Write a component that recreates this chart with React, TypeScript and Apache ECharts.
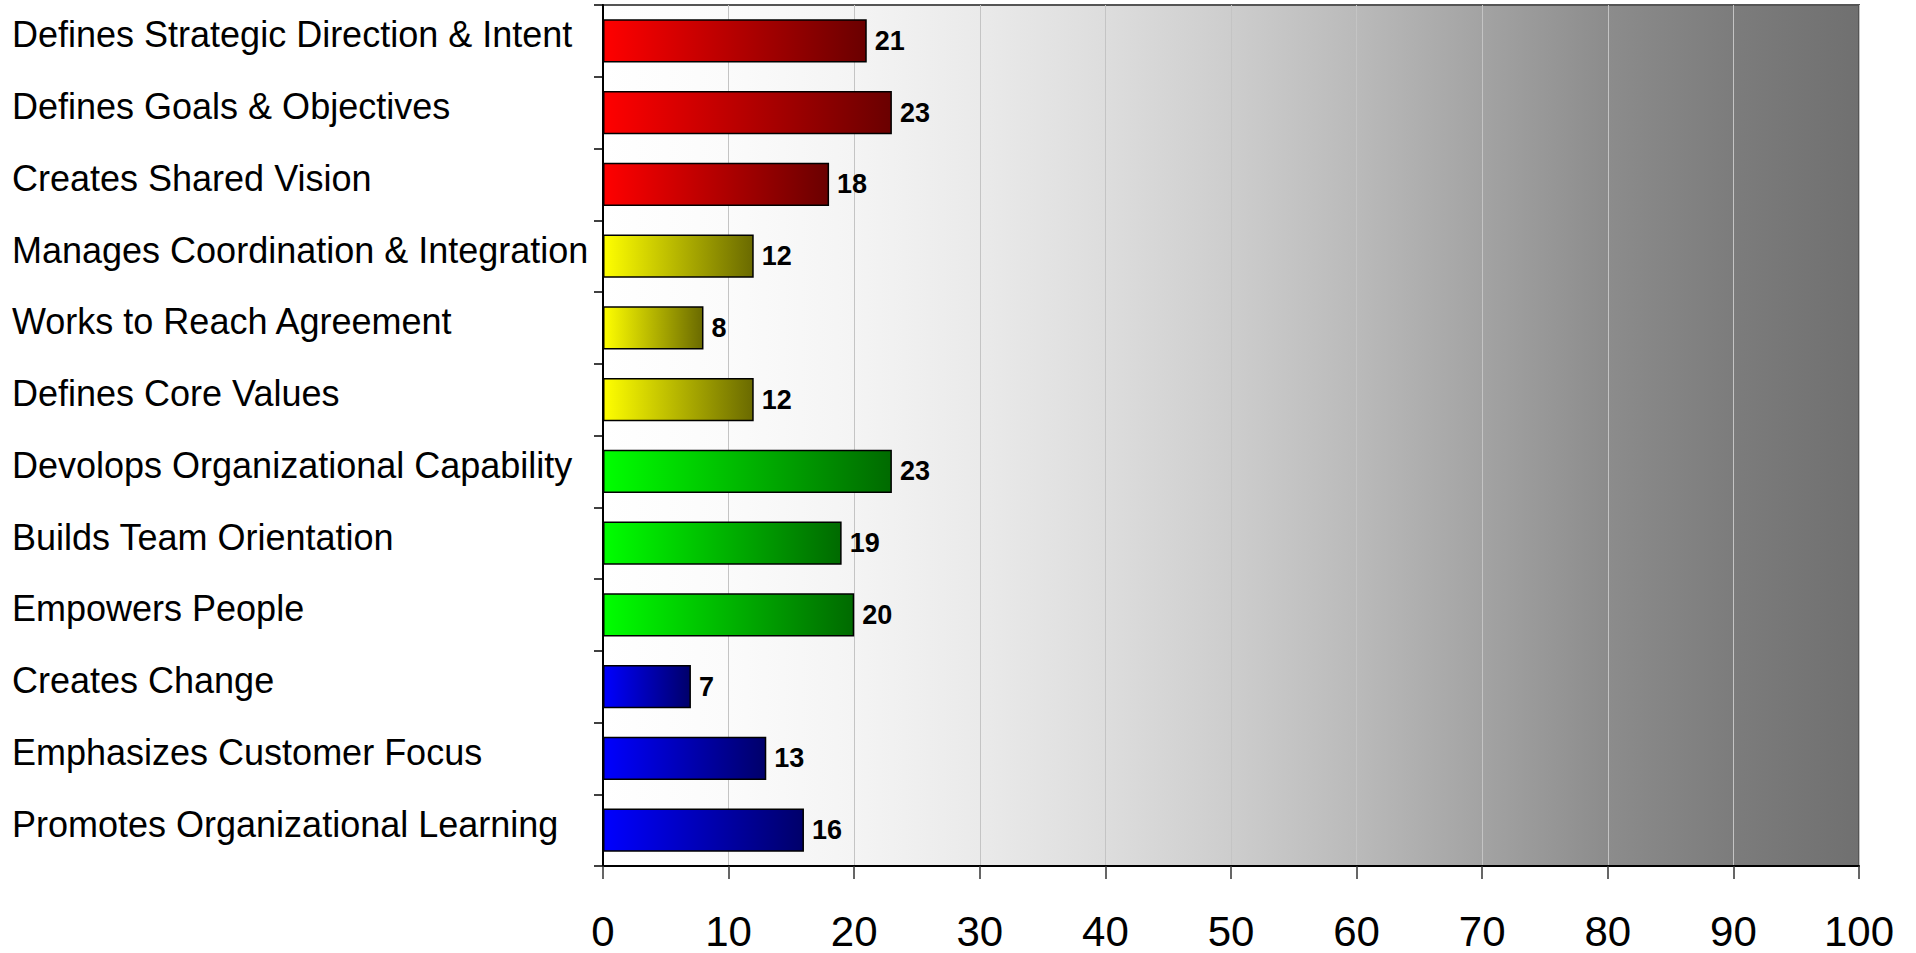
import React, { useEffect, useRef } from "react";
import * as echarts from "echarts";

const categories = [
  "Defines Strategic Direction & Intent",
  "Defines Goals & Objectives",
  "Creates Shared Vision",
  "Manages Coordination & Integration",
  "Works to Reach Agreement",
  "Defines Core Values",
  "Devolops Organizational Capability",
  "Builds Team Orientation",
  "Empowers People",
  "Creates Change",
  "Emphasizes Customer Focus",
  "Promotes Organizational Learning",
];
const values = [21, 23, 18, 12, 8, 12, 23, 19, 20, 7, 13, 16];
const groups = ["red", "red", "red", "yellow", "yellow", "yellow", "green", "green", "green", "blue", "blue", "blue"];
const xTicks = [0, 10, 20, 30, 40, 50, 60, 70, 80, 90, 100];

const palette: Record<string, [string, string]> = {
  red: ["#ff0000", "#6a0000"],
  yellow: ["#ffff00", "#6a6a00"],
  green: ["#00ff00", "#006a00"],
  blue: ["#0000ff", "#00006a"],
};

const FONT = "'Liberation Sans', Arial, sans-serif";

export default function App() {
  const ref = useRef<HTMLDivElement>(null);
  useEffect(() => {
    if (!ref.current) return;
    const chart = echarts.init(ref.current, undefined, { renderer: "svg" });
    const bg = new echarts.graphic.LinearGradient(0, 0, 1, 0, [
      { offset: 0, color: "#ffffff" },
      { offset: 0.1, color: "#fbfbfb" },
      { offset: 0.2, color: "#f4f4f4" },
      { offset: 0.3, color: "#eaeaea" },
      { offset: 0.4, color: "#dddddd" },
      { offset: 0.5, color: "#cdcdcd" },
      { offset: 0.6, color: "#bababa" },
      { offset: 0.7, color: "#a3a3a3" },
      { offset: 0.8, color: "#8c8c8c" },
      { offset: 0.9, color: "#7c7c7c" },
      { offset: 1, color: "#707070" },
    ]);
    chart.setOption({
      animation: false,
      backgroundColor: "#ffffff",
      grid: {
        left: 603,
        right: 57,
        top: 5,
        bottom: 87,
        show: true,
        backgroundColor: bg,
        borderColor: "#555555",
        borderWidth: 2,
      },
      xAxis: {
        type: "value",
        min: xTicks[0],
        max: xTicks[xTicks.length - 1],
        interval: 10,
        axisLine: { show: true, lineStyle: { color: "#000000", width: 2 } },
        axisTick: { show: true, length: 13, lineStyle: { color: "#333333", width: 1.5 } },
        splitLine: { show: true, lineStyle: { color: "#c4c4c4", width: 1 } },
        axisLabel: { fontSize: 42, color: "#000000", fontFamily: FONT, margin: 44 },
      },
      yAxis: {
        type: "category",
        inverse: true,
        data: categories,
        axisLine: { show: true, lineStyle: { color: "#000000", width: 2 } },
        axisTick: { show: true, length: 9, lineStyle: { color: "#000000", width: 1.5 } },
        axisLabel: {
          fontSize: 36,
          color: "#000000",
          fontFamily: FONT,
          align: "left",
          margin: 591,
          formatter: (v: string) => "{a|" + v + "}",
          rich: {
            a: {
              fontSize: 36,
              color: "#000000",
              fontFamily: FONT,
              padding: [0, 0, 12, 0],
            },
          },
        },
      },
      series: [
        {
          type: "bar",
          barCategoryGap: "40%",
          data: values.map((v, i) => {
            const [c0, c1] = palette[groups[i]];
            return {
              value: v,
              itemStyle: {
                color: new echarts.graphic.LinearGradient(0, 0, 1, 0, [
                  { offset: 0, color: c0 },
                  { offset: 1, color: c1 },
                ]),
                borderColor: "#000000",
                borderWidth: 1.5,
              },
            };
          }),
          label: {
            show: true,
            position: "right",
            distance: 8,
            fontSize: 27,
            fontWeight: "bold",
            color: "#000000",
            fontFamily: FONT,
          },
        },
      ],
    });
    return () => chart.dispose();
  }, []);
  return (
    <div
      ref={ref}
      style={{ position: "fixed", left: 0, top: 0, width: 1916, height: 953 }}
    />
  );
}
